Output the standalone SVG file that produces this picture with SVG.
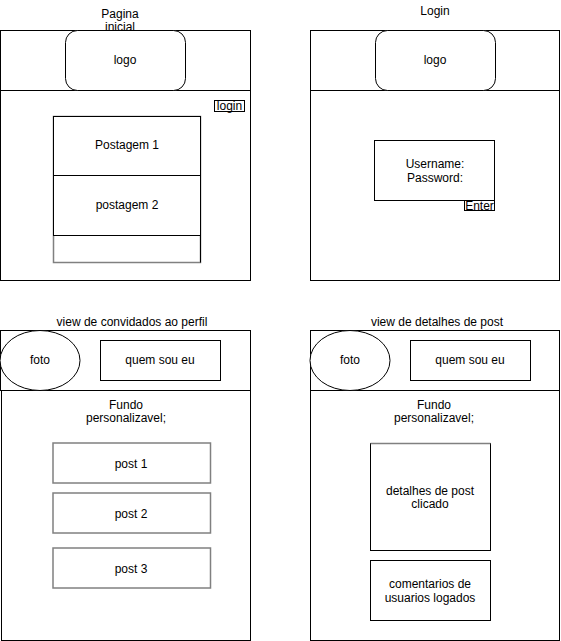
<svg xmlns="http://www.w3.org/2000/svg" width="561" height="641" viewBox="0 0 561 641">
  <style>
    .box { fill: #ffffff; stroke: #000000; stroke-width: 1; }
    .gbox { fill: #ffffff; stroke: #808080; stroke-width: 1.5; }
    .ln { fill: none; stroke: #000000; stroke-width: 1; }
    .gln { fill: none; stroke: #808080; stroke-width: 1.5; }
    text { font-family: "Liberation Sans", Arial, Helvetica, sans-serif; font-size: 12px; fill: #000000; text-anchor: middle; }
  </style>
  <rect width="561" height="641" fill="#ffffff"/>

  <!-- Screen 1: home page -->
  <g id="home">
    <text x="120" y="18">Pagina</text>
    <rect class="box" x="0.5" y="30.5" width="250" height="60"/>
    <rect class="box" x="0.5" y="90.5" width="250" height="190"/>
    <text x="120" y="31">inicial</text>
    <g id="home-logo">
      <rect class="box" x="65.5" y="30.5" width="120" height="60" rx="12" ry="12"/>
      <text x="125" y="64">logo</text>
    </g>
    <g id="home-login">
      <rect class="box" x="214.5" y="100.5" width="30" height="11"/>
      <text x="229.5" y="110">login</text>
    </g>
    <g id="home-posts">
      <rect class="gbox" x="53.5" y="116.5" width="147" height="146"/>
      <rect class="box" x="53.5" y="116.5" width="147" height="59"/>
      <text x="127" y="149">Postagem 1</text>
      <rect class="box" x="53.5" y="175.5" width="147" height="60"/>
      <text x="127" y="209">postagem 2</text>
      <path class="ln" d="M200.5 235.5 V262.5"/>
    </g>
  </g>

  <!-- Screen 2: login -->
  <g id="login">
    <text x="435" y="15">Login</text>
    <rect class="box" x="310.5" y="30.5" width="249" height="60"/>
    <rect class="box" x="310.5" y="90.5" width="249" height="190"/>
    <g id="login-logo">
      <rect class="box" x="375.5" y="30.5" width="120" height="60" rx="12" ry="12"/>
      <text x="435" y="64">logo</text>
    </g>
    <g id="login-form">
      <rect class="box" x="374.5" y="140.5" width="120" height="60"/>
      <text x="435" y="168">Username:</text>
      <text x="435" y="182">Password:</text>
    </g>
    <g id="login-enter">
      <rect class="box" x="464.5" y="200.5" width="30" height="10"/>
      <text x="479.5" y="210">Enter</text>
    </g>
  </g>

  <!-- Screen 3: guest view of a profile -->
  <g id="guest-profile">
    <text x="132" y="326">view de convidados ao perfil</text>
    <rect class="box" x="0.5" y="330.5" width="250" height="60"/>
    <rect class="box" x="1.5" y="390.5" width="249" height="250"/>
    <g id="guest-photo">
      <ellipse class="box" cx="40" cy="360.5" rx="40" ry="30"/>
      <text x="40" y="364">foto</text>
    </g>
    <g id="guest-about">
      <rect class="box" x="100.5" y="340.5" width="120" height="40"/>
      <text x="160" y="364">quem sou eu</text>
    </g>
    <text x="126" y="409">Fundo</text>
    <text x="126" y="422">personalizavel;</text>
    <g id="guest-post1">
      <rect class="gbox" x="53" y="443" width="157.5" height="40"/>
      <text x="131" y="468">post 1</text>
    </g>
    <g id="guest-post2">
      <rect class="gbox" x="53" y="493" width="157.5" height="40"/>
      <text x="131" y="518">post 2</text>
    </g>
    <g id="guest-post3">
      <rect class="gbox" x="53" y="548" width="157.5" height="40"/>
      <text x="131" y="573">post 3</text>
    </g>
  </g>

  <!-- Screen 4: post details -->
  <g id="post-details">
    <text x="437" y="326">view de detalhes de post</text>
    <rect class="box" x="310.5" y="330.5" width="249" height="60"/>
    <rect class="box" x="310.5" y="390.5" width="249" height="250"/>
    <g id="details-photo">
      <ellipse class="box" cx="350" cy="360.5" rx="40" ry="30"/>
      <text x="350" y="364">foto</text>
    </g>
    <g id="details-about">
      <rect class="box" x="410.5" y="340.5" width="120" height="40"/>
      <text x="470" y="364">quem sou eu</text>
    </g>
    <text x="434" y="409">Fundo</text>
    <text x="434" y="422">personalizavel;</text>
    <g id="details-post">
      <rect class="box" x="370.5" y="443.5" width="120" height="107"/>
      <path class="gln" d="M370.5 443.5 H490.5"/>
      <text x="430" y="495">detalhes de post</text>
      <text x="430" y="508">clicado</text>
    </g>
    <g id="details-comments">
      <rect class="box" x="370.5" y="560.5" width="120" height="60"/>
      <text x="430" y="588">comentarios de</text>
      <text x="430" y="602">usuarios logados</text>
    </g>
  </g>
</svg>
